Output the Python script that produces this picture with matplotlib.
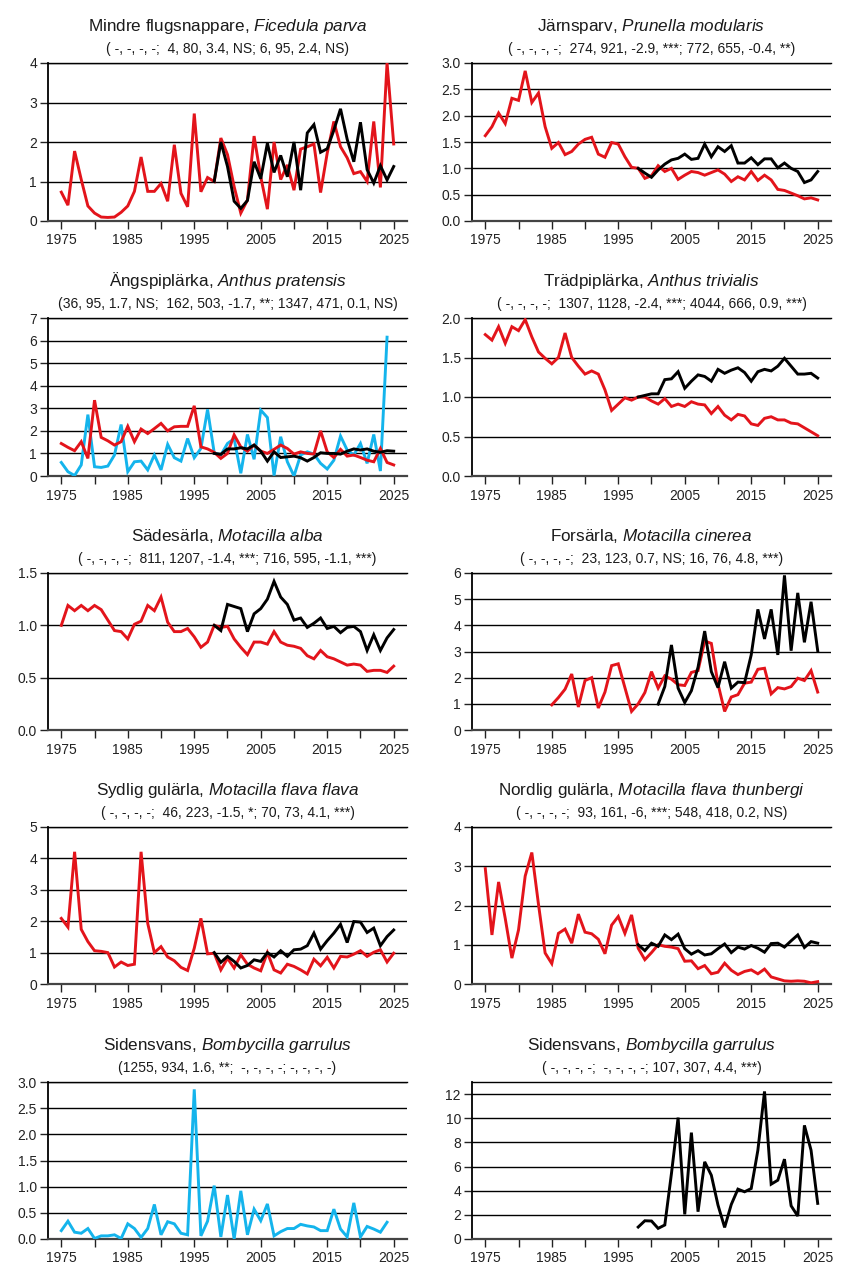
import numpy as np
import matplotlib.pyplot as plt
from matplotlib.ticker import MultipleLocator, FormatStrFormatter

plt.rcParams['font.family'] = ['Liberation Sans', 'DejaVu Sans']
plt.rcParams['mathtext.fontset'] = 'custom'
plt.rcParams['mathtext.rm'] = 'Liberation Sans'
plt.rcParams['mathtext.it'] = 'Liberation Sans:italic'

RED = '#e3141b'
BLUE = '#14b4ec'
BLACK = '#000000'

# ---- data (index values per year) ----
# Mindre flugsnappare
flug_red = [0.73, 0.40, 1.77, 1.05, 0.38, 0.20, 0.10, 0.09, 0.10, 0.22,
            0.38, 0.75, 1.62, 0.75, 0.75, 0.95, 0.50, 1.93, 0.70, 0.36,
            2.72, 0.74, 1.10, 1.00, 2.10, 1.68, 0.87, 0.20, 0.53, 2.15,
            1.12, 0.30, 2.00, 1.05, 1.42, 0.78, 1.82, 1.88, 1.95, 0.72,
            1.72, 2.52, 1.88, 1.60, 1.20, 1.25, 1.00, 2.52, 0.85, 4.00,
            1.95]
flug_black = [1.00, 2.00, 1.38, 0.50, 0.32, 0.52, 1.50, 1.07, 1.97, 1.23,
              1.66, 1.12, 2.00, 0.78, 2.23, 2.44, 1.74, 1.83, 2.30, 2.84,
              2.07, 1.50, 2.50, 1.30, 0.96, 1.40, 1.04, 1.38]

# Järnsparv
jarn_red = [1.62, 1.79, 2.05, 1.85, 2.33, 2.29, 2.85, 2.25, 2.43, 1.79,
            1.38, 1.49, 1.26, 1.32, 1.46, 1.55, 1.59, 1.27, 1.21, 1.49,
            1.46, 1.22, 1.02, 1.00, 0.81, 0.86, 1.05, 0.94, 1.00, 0.79,
            0.87, 0.94, 0.92, 0.87, 0.92, 0.97, 0.89, 0.75, 0.84, 0.78,
            0.94, 0.77, 0.87, 0.78, 0.60, 0.58, 0.53, 0.48, 0.42, 0.44,
            0.40]
jarn_black = [1.00, 0.91, 0.83, 0.97, 1.08, 1.16, 1.19, 1.27, 1.17, 1.19,
              1.46, 1.22, 1.41, 1.32, 1.43, 1.10, 1.10, 1.20, 1.07, 1.18,
              1.18, 1.01, 1.10, 1.00, 0.94, 0.73, 0.78, 0.94]

# Ängspiplärka
angs_red = [1.44, 1.27, 1.12, 1.52, 0.78, 3.36, 1.71, 1.56, 1.37, 1.52,
            2.20, 1.52, 2.08, 1.88, 2.10, 2.33, 2.00, 2.18, 2.20, 2.20,
            3.11, 1.29, 1.20, 1.05, 0.78, 1.00, 1.82, 1.29, 1.10, 1.37,
            1.10, 1.00, 1.18, 1.37, 1.22, 0.97, 1.07, 1.00, 0.97, 2.00,
            1.07, 0.82, 1.18, 0.88, 0.93, 0.82, 0.70, 0.63, 1.22, 0.60,
            0.49]
angs_blue = [0.60, 0.19, 0.02, 0.49, 2.72, 0.41, 0.38, 0.44, 0.93, 2.28,
             0.19, 0.63, 0.66, 0.27, 0.93, 0.27, 1.40, 0.81, 0.66, 1.66,
             0.81, 1.22, 2.95, 1.03, 0.93, 1.44, 1.65, 0.12, 1.84, 0.74,
             2.92, 2.59, 0.02, 1.74, 0.63, 0.00, 0.93, 1.07, 0.97, 0.56,
             0.31, 0.70, 1.77, 1.15, 0.93, 1.44, 0.56, 1.84, 0.22, 6.15]
angs_black = [1.00, 0.96, 1.20, 1.20, 1.25, 1.20, 1.37, 1.10, 0.66, 1.07,
              0.82, 0.85, 0.88, 0.81, 0.66, 0.82, 1.03, 1.00, 1.00, 0.97,
              1.10, 1.20, 1.15, 1.20, 1.10, 1.05, 1.12, 1.10]

# Trädpiplärka
trad_red = [1.79, 1.72, 1.89, 1.68, 1.89, 1.84, 1.98, 1.76, 1.57, 1.49,
            1.42, 1.50, 1.81, 1.50, 1.39, 1.29, 1.33, 1.29, 1.09, 0.83,
            0.91, 0.99, 0.96, 1.00, 1.00, 0.95, 0.91, 0.98, 0.88, 0.91,
            0.88, 0.94, 0.91, 0.90, 0.79, 0.88, 0.77, 0.71, 0.78, 0.76,
            0.66, 0.64, 0.73, 0.75, 0.71, 0.71, 0.67, 0.66, 0.61, 0.56,
            0.51]
trad_black = [1.00, 1.02, 1.04, 1.04, 1.22, 1.23, 1.32, 1.11, 1.20, 1.28,
              1.26, 1.20, 1.35, 1.30, 1.34, 1.37, 1.31, 1.20, 1.32, 1.35,
              1.33, 1.39, 1.49, 1.39, 1.29, 1.29, 1.30, 1.24]

# Sädesärla
sade_red = [1.00, 1.19, 1.14, 1.19, 1.14, 1.19, 1.15, 1.05, 0.95, 0.94,
            0.87, 1.01, 1.04, 1.19, 1.14, 1.27, 1.03, 0.94, 0.94, 0.97,
            0.89, 0.79, 0.84, 1.00, 0.98, 0.99, 0.87, 0.79, 0.72, 0.84,
            0.84, 0.82, 0.94, 0.84, 0.81, 0.80, 0.78, 0.71, 0.68, 0.76,
            0.70, 0.68, 0.65, 0.62, 0.63, 0.62, 0.56, 0.57, 0.57, 0.55,
            0.61]
sade_black = [1.00, 0.95, 1.20, 1.18, 1.16, 0.94, 1.11, 1.16, 1.25, 1.42,
              1.27, 1.20, 1.05, 1.07, 0.98, 1.02, 1.07, 0.97, 0.99, 0.93,
              0.98, 0.99, 0.94, 0.76, 0.91, 0.76, 0.88, 0.96]

# Forsärla (red from 1985, black from 2001)
fors_red = [0.96, 1.24, 1.56, 2.14, 0.88, 1.89, 2.00, 0.84, 1.45, 2.46,
            2.53, 1.62, 0.71, 1.00, 1.43, 2.23, 1.60, 2.07, 1.94, 1.73,
            1.70, 2.20, 2.27, 3.40, 3.31, 1.76, 0.71, 1.26, 1.35, 1.79,
            1.83, 2.32, 2.36, 1.38, 1.62, 1.57, 1.66, 1.98, 1.89, 2.27,
            1.45]
fors_black = [0.99, 1.66, 3.25, 1.60, 1.05, 1.50, 2.40, 3.78, 2.23, 1.62,
              2.61, 1.60, 1.83, 1.81, 2.87, 4.61, 3.48, 4.61, 2.87, 5.91,
              3.03, 5.24, 3.35, 4.90, 3.03]

# Sydlig gulärla
sydl_red = [2.09, 1.81, 4.21, 1.74, 1.35, 1.06, 1.04, 1.00, 0.54, 0.70,
            0.59, 0.63, 4.21, 1.93, 1.00, 1.19, 0.86, 0.74, 0.53, 0.43,
            1.14, 2.09, 0.96, 0.98, 0.45, 0.82, 0.51, 0.93, 0.63, 0.51,
            0.42, 1.00, 0.45, 0.35, 0.63, 0.56, 0.45, 0.32, 0.79, 0.58,
            0.85, 0.51, 0.88, 0.86, 0.95, 1.06, 0.88, 1.01, 1.09, 0.70,
            0.98]
sydl_black = [1.00, 0.69, 0.88, 0.72, 0.51, 0.59, 0.77, 0.72, 1.00, 0.86,
              1.06, 0.88, 1.09, 1.11, 1.22, 1.62, 1.11, 1.38, 1.62, 1.90,
              1.32, 1.99, 1.97, 1.64, 1.78, 1.22, 1.51, 1.72]

# Nordlig gulärla
nord_red = [2.94, 1.25, 2.60, 1.67, 0.66, 1.38, 2.75, 3.35, 2.03, 0.79,
            0.52, 1.29, 1.40, 1.04, 1.78, 1.32, 1.28, 1.14, 0.77, 1.50,
            1.72, 1.29, 1.76, 0.91, 0.62, 0.80, 1.00, 0.96, 0.94, 0.90,
            0.58, 0.59, 0.39, 0.47, 0.26, 0.30, 0.53, 0.35, 0.24, 0.32,
            0.36, 0.26, 0.38, 0.18, 0.13, 0.08, 0.07, 0.08, 0.07, 0.03,
            0.06]
nord_black = [1.00, 0.85, 1.04, 0.96, 1.25, 1.13, 1.27, 0.90, 0.76, 0.85,
              0.74, 0.77, 0.90, 1.02, 0.80, 0.94, 0.89, 0.98, 0.91, 0.81,
              1.03, 1.04, 0.94, 1.10, 1.25, 0.93, 1.08, 1.04]

# Sidensvans
side_blue = [0.16, 0.34, 0.13, 0.11, 0.20, 0.01, 0.06, 0.06, 0.08, 0.01,
             0.29, 0.20, 0.03, 0.20, 0.66, 0.08, 0.33, 0.29, 0.11, 0.08,
             2.86, 0.06, 0.34, 1.02, 0.04, 0.84, 0.00, 0.92, 0.08, 0.57,
             0.35, 0.67, 0.06, 0.14, 0.20, 0.20, 0.28, 0.25, 0.23, 0.16,
             0.16, 0.57, 0.19, 0.04, 0.69, 0.04, 0.24, 0.19, 0.13, 0.32]
side_black = [0.99, 1.51, 1.49, 0.88, 1.16, 5.42, 10.05, 2.04, 8.81, 2.26,
              6.39, 5.28, 2.81, 0.96, 2.86, 4.13, 3.91, 4.18, 7.35, 12.22,
              4.54, 4.87, 6.61, 2.75, 1.90, 9.41, 7.35, 2.95]

titles = [
    r'Mindre flugsnappare, $\mathit{Ficedula\ parva}$',
    r'Järnsparv, $\mathit{Prunella\ modularis}$',
    r'Ängspiplärka, $\mathit{Anthus\ pratensis}$',
    r'Trädpiplärka, $\mathit{Anthus\ trivialis}$',
    r'Sädesärla, $\mathit{Motacilla\ alba}$',
    r'Forsärla, $\mathit{Motacilla\ cinerea}$',
    r'Sydlig gulärla, $\mathit{Motacilla\ flava\ flava}$',
    r'Nordlig gulärla, $\mathit{Motacilla\ flava\ thunbergi}$',
    r'Sidensvans, $\mathit{Bombycilla\ garrulus}$',
    r'Sidensvans, $\mathit{Bombycilla\ garrulus}$',
]
subtitles = [
    '( -, -, -, -;  4, 80, 3.4, NS; 6, 95, 2.4, NS)',
    '( -, -, -, -;  274, 921, -2.9, ***; 772, 655, -0.4, **)',
    '(36, 95, 1.7, NS;  162, 503, -1.7, **; 1347, 471, 0.1, NS)',
    '( -, -, -, -;  1307, 1128, -2.4, ***; 4044, 666, 0.9, ***)',
    '( -, -, -, -;  811, 1207, -1.4, ***; 716, 595, -1.1, ***)',
    '( -, -, -, -;  23, 123, 0.7, NS; 16, 76, 4.8, ***)',
    '( -, -, -, -;  46, 223, -1.5, *; 70, 73, 4.1, ***)',
    '( -, -, -, -;  93, 161, -6, ***; 548, 418, 0.2, NS)',
    '(1255, 934, 1.6, **;  -, -, -, -; -, -, -, -)',
    '( -, -, -, -;  -, -, -, -; 107, 307, 4.4, ***)',
]

# (series, start year, colour) per panel
panels = [
    [(flug_red, 1975, RED), (flug_black, 1998, BLACK)],
    [(jarn_red, 1975, RED), (jarn_black, 1998, BLACK)],
    [(angs_blue, 1975, BLUE), (angs_red, 1975, RED), (angs_black, 1998, BLACK)],
    [(trad_red, 1975, RED), (trad_black, 1998, BLACK)],
    [(sade_red, 1975, RED), (sade_black, 1998, BLACK)],
    [(fors_red, 1985, RED), (fors_black, 2001, BLACK)],
    [(sydl_red, 1975, RED), (sydl_black, 1998, BLACK)],
    [(nord_red, 1975, RED), (nord_black, 1998, BLACK)],
    [(side_blue, 1975, BLUE)],
    [(side_black, 1998, BLACK)],
]
ylims = [(0, 4), (0, 3), (0, 7), (0, 2), (0, 1.5), (0, 6), (0, 5), (0, 4), (0, 3), (0, 13)]
ysteps = [1, 0.5, 1, 0.5, 0.5, 1, 1, 1, 0.5, 2]

W, H = 848, 1272
fig = plt.figure(figsize=(W / 100, H / 100), dpi=100)

col_left = [48, 472]
row_tb = [(63, 221), (318, 476), (573, 730), (827, 984), (1082, 1239)]
ax_w = 359

for i in range(10):
    r, c = divmod(i, 2)
    top, bot = row_tb[r]
    ax = fig.add_axes([col_left[c] / W, 1 - bot / H, ax_w / W, (bot - top) / H])

    for vals, start, col in panels[i]:
        x = np.arange(start, start + len(vals))
        ax.plot(x, vals, color=col, lw=2.1, solid_joinstyle='miter', zorder=3)

    ax.set_xlim(1973, 2027)
    ax.set_ylim(*ylims[i])
    ax.xaxis.set_major_locator(MultipleLocator(10, offset=5))
    ax.xaxis.set_minor_locator(MultipleLocator(5))
    ax.yaxis.set_major_locator(MultipleLocator(ysteps[i]))
    if ysteps[i] < 1:
        ax.yaxis.set_major_formatter(FormatStrFormatter('%.1f'))
    else:
        ax.yaxis.set_major_formatter(FormatStrFormatter('%d'))

    ax.grid(axis='y', color='black', lw=1.0, zorder=1)
    ax.spines['right'].set_visible(False)
    ax.spines['top'].set_linewidth(1.0)
    ax.spines['left'].set_linewidth(1.3)
    ax.spines['bottom'].set_color('#444444')
    ax.spines['bottom'].set_linewidth(1.6)
    ax.tick_params(axis='both', which='both', direction='out', length=6,
                   width=1.0, labelsize=10, colors='#222222')
    ax.tick_params(axis='x', pad=3)
    ax.tick_params(axis='y', pad=2)

    ax.annotate(titles[i], xy=(0.5, 1), xycoords='axes fraction',
                xytext=(0, 23), textcoords='offset points',
                ha='center', va='baseline', fontsize=12.3, color='#1a1a1a')
    ax.annotate(subtitles[i], xy=(0.5, 1), xycoords='axes fraction',
                xytext=(0, 7.5), textcoords='offset points',
                ha='center', va='baseline', fontsize=10, color='#1a1a1a')

fig.savefig('out.png', dpi=100, facecolor='white')
